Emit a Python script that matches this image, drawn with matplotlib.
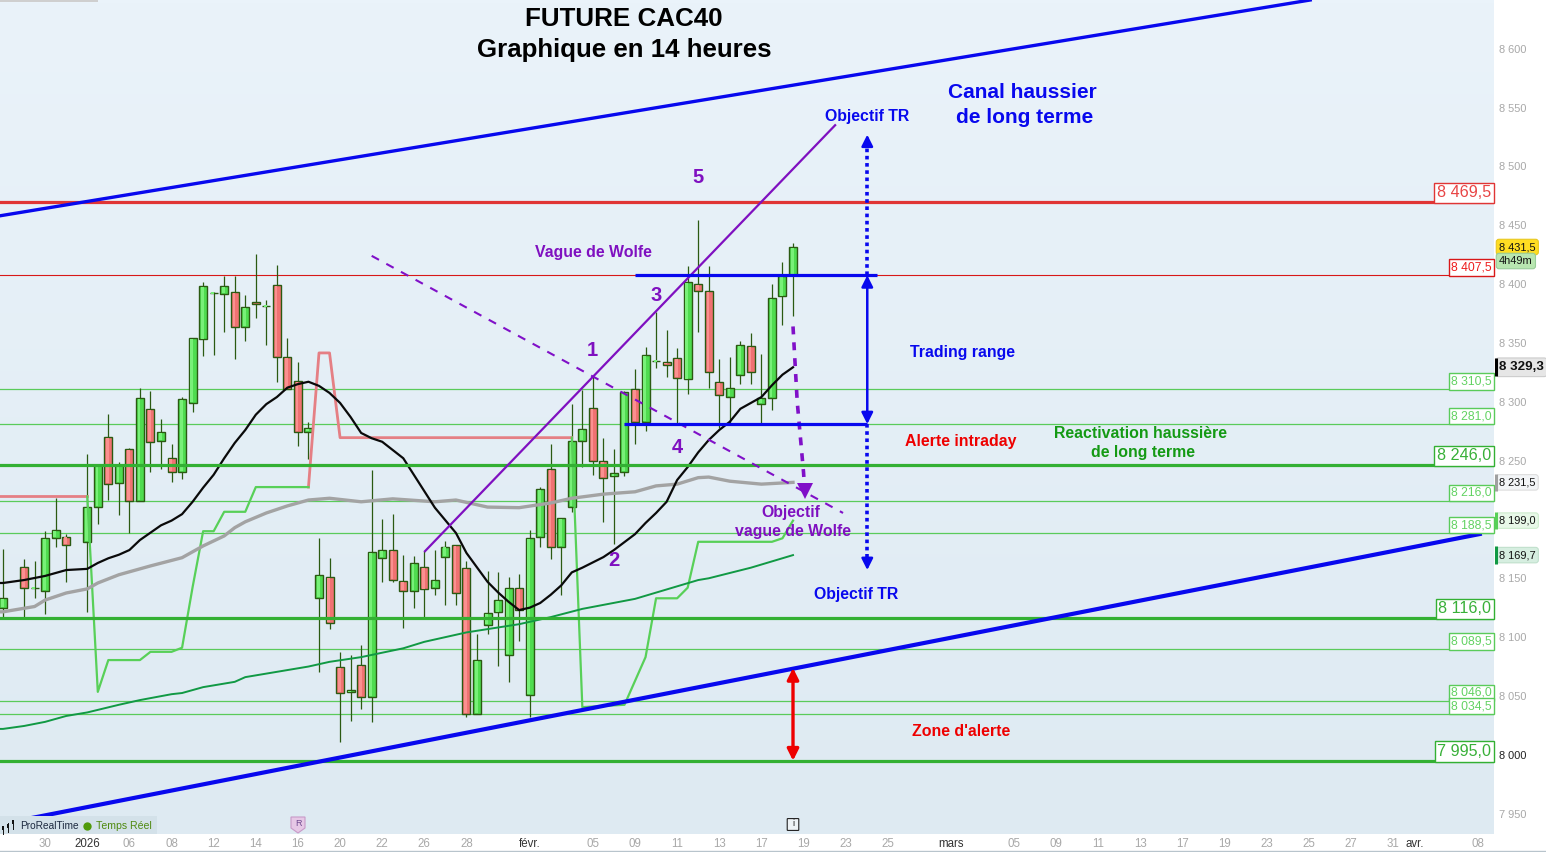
import numpy as np
import matplotlib
matplotlib.use('Agg')
import matplotlib.pyplot as plt
from matplotlib.patches import Rectangle, Polygon, FancyBboxPatch
from matplotlib.transforms import blended_transform_factory

plt.rcParams['font.family'] = ['Liberation Sans', 'DejaVu Sans']

# candles (14h bars), bar number / open / high / low / close
bar_index = [0,2,3,4,5,6,8,9,10,11,12,13,14,15,16,17,18,19,20,21,22,23,24,25,26,27,28,29,
             30,31,32,33,34,35,36,37,38,39,40,41,42,43,44,45,46,47,48,49,50,51,52,53,54,55,
             56,57,58,59,60,61,62,63,64,65,66,67,68,69,70,71,72,73,74,75]
opens = [8124.5,8159.5,8142,8139.5,8184.5,8185.5,8181,8210.5,8270,8231,8259.5,8216,8293.5,8266.5,
         8252,8240,8299,8353,8392.5,8391.5,8393,8363.5,8384.5,8381.5,8399,8338,8317.5,8274,
         8133.5,8151,8074.5,8053,8076,8049.5,8167,8174,8147.5,8139,8159.5,8141.5,8168.5,8178,
         8158.5,8034.5,8110,8121,8084.5,8141.5,8050.5,8185,8242.5,8176.5,8210.5,8266.5,
         8294.5,8249.5,8236.5,8240,8310.5,8282.5,8334.5,8334,8337,8319,8400,8394,8316.5,8304,
         8322.5,8347,8298,8303,8389.5,8407.5]
highs = [8175,8166.5,8164.5,8190,8218,8187.5,8255.5,8246.5,8289.5,8248.5,8261,8311.5,8309,8285,
         8264,8304,8354,8401.5,8393.5,8407,8407,8390.5,8425.5,8386.5,8416.5,8354,8333.5,8282.5,
         8184,8167.5,8087,8084.5,8093,8242,8200,8204.5,8170,8169,8173,8174,8181.5,8178.5,
         8164.5,8102.5,8156,8155,8151,8153.5,8191,8227.5,8264,8201,8298,8310,
         8322,8269.5,8259.5,8309,8328,8346.5,8376,8361,8345.5,8415.5,8454.5,8415.5,8336,8338,
         8351.5,8358.5,8340.5,8400,8418.5,8435]
lows = [8117,8117,8133.5,8119.5,8177,8147,8121.5,8196.5,8216.5,8204,8188.5,8216,8240,8243,
        8231.5,8234.5,8291,8339,8340,8359,8336.5,8352,8371.5,8348.5,8316.5,8311,8262.5,8251.5,
        8070.5,8106.5,8010.5,8029,8039,8028,8147,8147,8108,8125,8117.5,8136,8127.5,8127.5,
        8032.5,8034.5,8102.5,8075.5,8061.5,8097,8032.5,8176.5,8166.5,8136,8206,8244.5,
        8237.5,8198,8179,8236.5,8264,8275,8329,8321,8282,8306.5,8359,8311.5,8278,8282,
        8315,8315,8282,8293,8365.5,8373]
closes = [8133.5,8141.5,8142,8184,8191,8178,8210.5,8246,8230,8246,8216,8303,8265.5,8274,
          8240,8302,8354,8398,8392.5,8398,8363.5,8380.5,8383,8381.5,8338,8311,8274,8277.5,
          8152.5,8112,8052.5,8055,8049.5,8172,8174,8148.5,8139,8163,8140.5,8148.5,8177,8137.5,
          8034.5,8080.5,8120.5,8131.5,8141.5,8123,8184,8225.5,8176.5,8201,8266.5,8276.5,
          8249.5,8235,8239.5,8308,8282.5,8339.5,8334.5,8331,8320,8401.5,8394,8325,8305.5,8311.5,
          8348,8325,8303,8388,8407,8431.5]

# black moving average
ma_black_x = [-0.3,0,2,4,5,6,8,9,10,11,12,13,15,16,17,18,19,20,21,22,23,24,25,26,27,28,29,30,31,32,33,34,
              35,36,37,38,41,43,44,46,47,48,49,50,51,52,53,54,55,57,58,60,61,62,63,64,65,66,67,68,
              69,70,71,72,73,74,75]
ma_black_y = [8146,8146,8148.5,8152,8154.5,8157,8158,8163,8167,8170,8174,8182.5,8195,8199,8204.5,8215,8227,
              8238,8252,8265,8276,8289,8298,8304,8312,8315,8317,8313.5,8307.5,8299,8287,8273.5,
              8269,8266,8259,8252,8210,8188.5,8171.5,8147,8138,8130,8123,8125,8129,8136,8144,8155,
              8159,8168,8174,8187.5,8197,8205.5,8215,8233.5,8244.5,8257,8267.5,8276,8283,8294,8299,
              8304,8314,8323,8329.3]
# grey moving average
ma_grey_x = [-0.3,0,3,4,6,8,9,11,12,14,17,19,21,22,23,25,27,29,31,34,37,41,43,46,49,52,54,57,60,62,64,66,67,69,72,75]
ma_grey_y = [8121.5,8121.5,8126,8131.5,8137.5,8141,8146,8153,8155.5,8160.5,8167.5,8177.5,8186,8193,8198,8205.5,
             8211.5,8216.5,8218,8215,8217.5,8215,8216.5,8210.5,8210,8214,8218,8221.5,8223.5,8228.5,
             8230,8235.5,8236,8232.5,8230,8231.5]
# dark green long moving average
ma_green_x = [-0.3,0,2,4,6,8,11,13,16,17,19,22,23,29,31,34,38,40,43,44,49,52,55,60,66,67,71,75]
ma_green_y = [8022,8022,8024.5,8028,8033,8036,8042.5,8046.5,8051.5,8052.5,8057.5,8062,8066,8075,8079,8083,
              8090.5,8096,8102,8104,8111,8117,8124,8132.5,8148.5,8150,8159,8169.7]
# trailing stop, red above price / green below
trail_red1_x = [-0.3,8]
trail_red1_y = [8219.5,8219.5]
trail_green1_x = [8,9,10,13,14,16,17,18,19,20,21,23,24,29]
trail_green1_y = [8219.5,8053.5,8080.5,8080.5,8087.5,8087.5,8091,8142.5,8190,8190,8206.5,8206.5,8227.5,8227.5]
trail_red2_x = [29,30,31,32,54]
trail_red2_y = [8227.5,8341.5,8341.5,8269.5,8269.5]
trail_green2_x = [54,55,59,61,62,64,65,66,73,74,75]
trail_green2_y = [8269.5,8040.5,8042.5,8083,8133,8133,8142,8181,8181,8184,8199]

level_thick = [8469.5,8246.0,8116.0,7995.0]
level_thick_col = ['#e03535','#33b033','#33b033','#33b033']
level_thin = [8310.5,8281.0,8216.0,8188.5,8089.5,8046.0,8034.5]
level_red = 8407.5

# drawn trend lines
channel_top_x = [-0.3,124.1]
channel_top_y = [8458,8641.4]
channel_low_x = [-0.3,140.2]
channel_low_y = [7941,8187.6]
wolfe_x = [40.06,79]
wolfe_y = [8173,8535]
wolfe_dash_x = [35,79.75]
wolfe_dash_y = [8424,8205.5]
target_x = [75,75.4,76,76.1]
target_y = [8364,8300,8240,8226]
range_top_x = [60,83]
range_bot_x = [59,82]
range_top = 8407.5
range_bot = 8281
arrow_x = 82.05
target_up = 8527
target_down = 8157
alert_top = 8073.8

y_ticks = [7950,8000,8050,8100,8150,8200,8250,8300,8350,8400,8450,8500,8550,8600]
y_tick_labels = ['7 950','8 000','8 050','8 100','8 150','','8 250','8 300','8 350','8 400','8 450','8 500','8 550','8 600']
x_ticks = [4,8,12,16,20,24,28,32,36,40,44,50,56,60,64,68,72,76,80,84,90,96,100,104,108,112,116,120,124,128,132,134,140]
x_tick_labels = ['30','2026','06','08','12','14','16','20','22','26','28','févr.','05','09','11','13','17','19','23','25',
                 'mars','05','09','11','13','17','19','23','25','27','31','avr.','08']

W, H = 1546, 852
fig = plt.figure(figsize=(W/100, H/100), dpi=100, facecolor='white')
ax = fig.add_axes([0, 18/H, 1494/W, 834/H])

grad = np.linspace(0, 1, 256).reshape(-1, 1)
ax.imshow(grad, aspect='auto', extent=(0, 1, 0, 1), transform=ax.transAxes, zorder=0,
          cmap=matplotlib.colors.LinearSegmentedColormap.from_list('bg', ['#eaf3fa', '#deeaf2']))
ax.set_xlim(-0.285, 141.55)
ax.set_ylim(7932.7, 8641.4)
for s in ax.spines.values():
    s.set_visible(False)

# levels
ax.hlines(level_thin, -1, 142, color='#5acb5a', lw=0.9, zorder=1)
ax.hlines(level_red, -1, 142, color='#d81818', lw=0.8, zorder=1)

# candles
xs = np.array(bar_index)
o = np.array(opens)
c = np.array(closes)
up = c >= o
wick = '#2b5a12'
ax.vlines(xs, lows, highs, color=wick, lw=0.9, zorder=2)
body_col = np.where(up, '#4fdc4f', '#f07272')
ax.bar(xs, np.abs(c-o), bottom=np.minimum(o, c), width=0.76, color=body_col, edgecolor=wick, lw=1.0, zorder=2.2)
light_col = np.where(up, '#78f078', '#fb9090')
ax.bar(xs-0.08, np.abs(c-o)-1.5, bottom=np.minimum(o, c)+0.75, width=0.26, color=light_col, lw=0, zorder=2.3)

# indicators
ax.plot(trail_red1_x, trail_red1_y, color='#e57f84', lw=2, zorder=3)
ax.plot(trail_red2_x, trail_red2_y, color='#e57f84', lw=2, zorder=3)
ax.plot(trail_green1_x, trail_green1_y, color='#58d058', lw=1.6, zorder=3)
ax.plot(trail_green2_x, trail_green2_y, color='#58d058', lw=1.6, zorder=3)
ax.plot(ma_grey_x, ma_grey_y, color='#a3a3a3', lw=2.4, zorder=3.1)
ax.plot(ma_green_x, ma_green_y, color='#119944', lw=1.4, zorder=3.1)
ax.plot(ma_black_x, ma_black_y, color='#0a0a0a', lw=1.6, zorder=3.2)

# thick levels over candles
ax.hlines(level_thick, -1, 142, color=level_thick_col, lw=2.3, zorder=4)

# trend lines
ax.plot(channel_top_x, channel_top_y, color='#0808ee', lw=2.4, zorder=4.2)
ax.plot(channel_low_x, channel_low_y, color='#0808ee', lw=3, zorder=4.2)
ax.plot(wolfe_x, wolfe_y, color='#7f10c0', lw=1.6, zorder=4.2)
ax.plot(wolfe_dash_x, wolfe_dash_y, color='#8010c8', lw=1.5, ls=(0, (4, 4)), zorder=4.2)
ax.plot(target_x, target_y, color='#8010c8', lw=2.6, ls=(0, (2.2, 2.2)), zorder=4.3)
ax.plot([target_x[-1]], [target_y[-1]-2], marker='v', ms=11, color='#8010c8', mew=0, zorder=4.4)
ax.hlines(range_top, range_top_x[0], range_top_x[1], color='#0808ee', lw=2.3, zorder=4.5)
ax.hlines(range_bot, range_bot_x[0], range_bot_x[1], color='#0808ee', lw=2.3, zorder=4.5)

# arrows of the trading range and of the alert zone
def arrow(x, y0, y1, col, style='<|-|>', ms=17, lw=1.8):
    ax.annotate('', xy=(x, y1), xytext=(x, y0), zorder=5,
                arrowprops=dict(arrowstyle=style, color=col, lw=lw, mutation_scale=ms, shrinkA=0, shrinkB=0))

arrow(arrow_x, range_bot, range_top, '#0808ee')
ax.plot([arrow_x, arrow_x], [range_top, target_up-8], color='#0808ee', lw=2.6, ls=(0, (1, 1)), zorder=5)
ax.plot([arrow_x, arrow_x], [range_bot, target_down+8], color='#0808ee', lw=2.6, ls=(0, (1, 1)), zorder=5)
arrow(arrow_x, target_up-10, target_up, '#0808ee', style='-|>')
arrow(arrow_x, target_down+10, target_down, '#0808ee', style='-|>')
arrow(75, level_thick[3], alert_top, '#ee0000', lw=2.4)

# price boxes on the lines
tr = blended_transform_factory(ax.transAxes, ax.transData)
def level_box(v, txt, col, ec, big=False):
    fs = 11.6 if big else 8.7
    ax.text(0.9983, v+1.6, txt, transform=tr, ha='right', va='bottom', fontsize=fs, color=col, zorder=6,
            bbox=dict(boxstyle='square,pad=0.18', fc='white', ec=ec, lw=1))

level_box(8469.5, '8 469,5', '#e84545', '#e03535', True)
level_box(8407.5, '8 407,5', '#ee1c1c', '#d81818')
for v, t in zip(level_thin, ['8 310,5','8 281,0','8 216,0','8 188,5','8 089,5','8 046,0','8 034,5']):
    level_box(v, t, '#62d262', '#5acb5a')
level_box(8246.0, '8 246,0', '#38b038', '#33b033', True)
level_box(8116.0, '8 116,0', '#38b038', '#33b033', True)
level_box(7995.0, '7 995,0', '#38b038', '#33b033', True)

# y axis
ax.yaxis.tick_right()
ax.set_yticks(y_ticks, y_tick_labels)
ax.tick_params(axis='y', length=0, pad=3.5, labelsize=7.9, labelcolor='#a8a8a8')
for t, v in zip(ax.get_yticklabels(), y_ticks):
    if v == 8000:
        t.set_color('#222222')

# x axis
ax.set_xticks(x_ticks, x_tick_labels)
ax.tick_params(axis='x', length=0, pad=3, labelsize=8.3, labelcolor='#a8a8a8')
for t, s in zip(ax.get_xticklabels(), x_tick_labels):
    if s in ('2026', 'févr.', 'mars', 'avr.'):
        t.set_color('#333333')

# price tags on the right
def tag(v, txt, fc, strip, ec, bold=False, col='#111111', fs=7.9, dy=0):
    ax.annotate(txt, xy=(1, v), xycoords=tr, xytext=(5, dy), textcoords='offset pixels', ha='left', va='center',
                fontsize=fs, color=col, fontweight='bold' if bold else 'normal', annotation_clip=False, zorder=7,
                bbox=dict(boxstyle='round,pad=0.25', fc=fc, ec=ec, lw=0.8))
    if strip:
        ax.plot([1.0012, 1.0012], [v-7.5, v+7.5], transform=tr, color=strip, lw=2.2, solid_capstyle='butt',
                clip_on=False, zorder=8)

tag(8431.5, '8 431,5', '#ffdd22', None, '#e8c820')
tag(8431.5, '4h49m', '#b8e6b0', None, '#98cc98', dy=-14)
tag(8329.3, '8 329,3', '#e6e6e6', '#000000', '#cccccc', bold=True, fs=9.6)
tag(8231.5, '8 231,5', '#f3f5f7', '#a0a0a0', '#dddddd')
tag(8199.0, '8 199,0', '#e8f8e8', '#58d058', '#cdeccd')
tag(8169.7, '8 169,7', '#d6eee0', '#119944', '#c0e0cc')

# annotations, placed on the image
def note(x, y, txt, col, fs=11.4, **kw):
    fig.text(x/W, 1-(y+1.5)/H, txt, color=col, fontsize=fs, fontweight='bold', ha='center', va='center', zorder=10, **kw)

blue = '#0808ee'
purple = '#7f10c0'
note(624, 18, 'FUTURE CAC40', 'black', 18.7)
note(624, 49, 'Graphique en 14 heures', 'black', 18.6)
note(1022, 91, 'Canal haussier', blue, 15)
note(1025, 116, 'de long terme', blue, 15)
note(867, 115, 'Objectif TR', blue)
note(856, 593, 'Objectif TR', blue)
note(963, 351, 'Trading range', blue)
note(961, 440, 'Alerte intraday', '#ee0000')
note(1141, 432, 'Reactivation haussière', '#149a14')
note(1143, 451, 'de long terme', '#149a14')
note(961, 730, "Zone d'alerte", '#ee0000')
note(593, 251, 'Vague de Wolfe', purple)
note(791, 511, 'Objectif', purple)
note(793, 530, 'vague de Wolfe', purple)
for x, y, n in [(592, 349, '1'), (614, 559, '2'), (656, 294, '3'), (677, 446, '4'), (698, 176, '5')]:
    note(x, y, n, purple, 14.5)

# bottom left legend, badges, small details
fig.patches.append(Rectangle((0, 18/H), 157/W, 18/H, transform=fig.transFigure, fc='#d3e1e9', ec='none', zorder=9))
for x0, y0, y1, y2 in [(3, 826, 834, 830), (8, 823, 832, 828), (13, 820, 829, 824)]:
    fig.add_artist(plt.Line2D([x0/W, x0/W], [1-y0/H, 1-y1/H], color='#111111', lw=0.7, zorder=10))
    fig.add_artist(Rectangle(((x0-1)/W, 1-y2/H), 2/W, 4/H, transform=fig.transFigure, fc='#111111', ec='none', zorder=10))
fig.text(20/W, 1-826/H, 'ProRealTime', color='#1d2a40', fontsize=7.3, va='center', zorder=10)
fig.add_artist(plt.Line2D([87/W], [1-826/H], marker='o', ms=6, color='#4f9a0a', mew=0, zorder=10))
fig.text(96/W, 1-826/H, 'Temps Réel', color='#4f8a10', fontsize=7.6, va='center', zorder=10)

badge = Polygon([(291/W, 1-817/H), (305/W, 1-817/H), (305/W, 1-828/H), (298/W, 1-833/H), (291/W, 1-828/H)],
                closed=True, transform=fig.transFigure, fc='#e6c8e6', ec='#c89ac8', lw=0.8, zorder=9)
fig.add_artist(badge)
fig.text(298/W, 1-824/H, 'R', color='#704a90', fontsize=6.5, ha='center', va='center', zorder=10)
fig.add_artist(FancyBboxPatch((788/W, 1-830/H), 10/W, 11/H, boxstyle='round,pad=0.0005', transform=fig.transFigure,
                              fc='#eef3f6', ec='#222222', lw=0.8, zorder=9))
fig.text(793/W, 1-824/H, 'i', color='#222222', fontsize=6.5, ha='center', va='center', zorder=10)

# tab at the top and rule at the bottom
fig.add_artist(Rectangle((0, 1-2/H), 98/W, 2/H, transform=fig.transFigure, fc='#cfcfcf', ec='none', zorder=9))
fig.add_artist(plt.Line2D([0, 1], [1/H, 1/H], color='#b8c4cc', lw=1, zorder=9))

fig.savefig('out.png', dpi=100)
